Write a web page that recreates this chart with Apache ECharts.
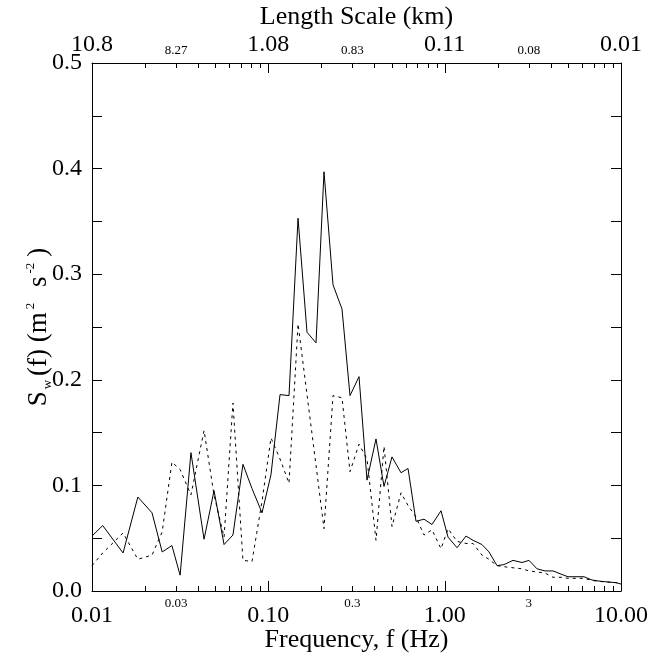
<!DOCTYPE html>
<html>
<head>
<meta charset="utf-8">
<script src="https://cdn.jsdelivr.net/npm/echarts@6/dist/echarts.min.js"></script>
<style>html,body{margin:0;background:#fff}#chart{width:654px;height:657px}</style>
</head>
<body>
<div id="chart"></div>
<script>
// frequency bins (Hz)
const freq = [0.0100, 0.0115, 0.0150, 0.0182, 0.0219, 0.0250, 0.0284, 0.0316, 0.0364, 0.0432,
  0.0492, 0.0561, 0.0630, 0.0718, 0.0808, 0.0921, 0.1035, 0.1165, 0.1310, 0.1474,
  0.1657, 0.1864, 0.2069, 0.2327, 0.2617, 0.2905, 0.3268, 0.3627, 0.4079, 0.4529,
  0.5027, 0.5655, 0.6197, 0.6878, 0.7635, 0.8476, 0.9533, 1.045, 1.175, 1.321,
  1.448, 1.628, 1.784, 1.981, 2.170, 2.441, 2.746, 3.009, 3.340, 3.707,
  4.116, 4.569, 5.006, 5.557, 6.169, 6.848, 7.603, 8.440, 9.370, 10.0];
// solid curve
const solid = [0.052, 0.062, 0.036, 0.089, 0.074, 0.037, 0.043, 0.015, 0.131, 0.049,
  0.095, 0.044, 0.053, 0.120, 0.097, 0.074, 0.110, 0.186, 0.185, 0.353,
  0.245, 0.235, 0.397, 0.290, 0.267, 0.185, 0.203, 0.105, 0.144, 0.099,
  0.127, 0.112, 0.116, 0.066, 0.068, 0.063, 0.076, 0.051, 0.041, 0.052,
  0.048, 0.044, 0.037, 0.024, 0.025, 0.029, 0.027, 0.029, 0.021, 0.019,
  0.019, 0.016, 0.0135, 0.0135, 0.0135, 0.0104, 0.0093, 0.0085, 0.0079, 0.0066];
// dashed curve
const dashed = [0.024, 0.036, 0.055, 0.030, 0.034, 0.056, 0.122, 0.115, 0.091, 0.152,
  0.091, 0.051, 0.178, 0.029, 0.028, 0.085, 0.145, 0.125, 0.102, 0.253,
  0.186, 0.119, 0.059, 0.185, 0.183, 0.113, 0.139, 0.125, 0.048, 0.137,
  0.061, 0.093, 0.081, 0.070, 0.053, 0.058, 0.040, 0.059, 0.047, 0.045,
  0.045, 0.034, 0.030, 0.024, 0.023, 0.022, 0.021, 0.019, 0.018, 0.017,
  0.013, 0.013, 0.012, 0.012, 0.012, 0.010, 0.009, 0.0085, 0.0079, 0.0066];

const labelFreq = [0.01, 0.03, 0.1, 0.3, 1, 3, 10];
const freqLabels = ['0.01', '0.03', '0.10', '0.3', '1.00', '3', '10.00'];
const lengthLabels = ['10.8', '8.27', '1.08', '0.83', '0.11', '0.08', '0.01'];

// log-axis ticks: [freq, 0, tick length]; decades long, 2..9 short
const xTicks = [];
[0.01, 0.1, 1].forEach(d => {
  xTicks.push([d, 0, 10]);
  for (let k = 2; k <= 9; k++) xTicks.push([d * k, 0, 5]);
});
xTicks.push([10, 0, 10]);

const font = 'Liberation Serif';
const black = '#000';

// label text picked by value (big ones at decades, small ones at 3x)
function pick(labels) {
  return v => {
    const i = labelFreq.findIndex(t => Math.abs(Math.log10(t / v)) < 0.01);
    if (i < 0) return '';
    return (i % 2 ? '{s|' : '{b|') + labels[i] + '}';
  };
}

function logAx(pos, extra) {
  return Object.assign({
    type: 'log', logBase: 10, min: 0.01, max: 10, position: pos,
    splitLine: { show: false },
    axisLine: { onZero: false, lineStyle: { color: black, width: 1 } },
    axisTick: { show: false },
    nameMoveOverlap: false
  }, extra);
}

function yAx(pos, extra) {
  return Object.assign({
    type: 'value', min: 0, max: 0.5, interval: 0.1, position: pos,
    splitLine: { show: false },
    axisLine: { show: true, onZero: false, lineStyle: { color: black, width: 1 } },
    axisTick: { show: true, inside: true, length: 10, lineStyle: { color: black } },
    minorTick: { show: true, splitNumber: 2, length: 10, lineStyle: { color: black } },
    minorSplitLine: { show: false },
    axisLabel: { show: false },
    nameMoveOverlap: false
  }, extra);
}

// draws one tick up from the bottom edge and one down from the top edge
function tickItem(params, api) {
  const f = api.value(0), len = api.value(2);
  const b = api.coord([f, 0]);
  const t = api.coord([f, 0.5]);
  const x = Math.round(b[0]) + 0.5;
  const st = { stroke: black, lineWidth: 1 };
  return {
    type: 'group',
    children: [
      { type: 'line', shape: { x1: x, y1: b[1], x2: x, y2: b[1] - len }, style: st },
      { type: 'line', shape: { x1: x, y1: t[1], x2: x, y2: t[1] + len }, style: st }
    ]
  };
}

const chart = echarts.init(document.getElementById('chart'));
chart.setOption({
  animation: false,
  backgroundColor: '#fff',
  textStyle: { fontFamily: font, color: black },
  grid: { left: 92, right: 33, top: 63, bottom: 66, outerBoundsMode: 'none', containLabel: false },
  xAxis: [
    logAx('bottom', {
      name: 'Frequency, f (Hz)', nameLocation: 'middle', nameGap: 36,
      nameTextStyle: { fontFamily: font, fontSize: 26, color: black },
      axisLabel: {
        show: true, margin: 5, customValues: labelFreq, hideOverlap: false,
        formatter: pick(freqLabels),
        rich: {
          b: { fontFamily: font, fontSize: 24, lineHeight: 40, color: black },
          s: { fontFamily: font, fontSize: 13, lineHeight: 16, color: black }
        }
      }
    }),
    logAx('top', {
      name: 'Length Scale (km)', nameLocation: 'middle', nameGap: 33,
      nameTextStyle: { fontFamily: font, fontSize: 26, color: black },
      axisLabel: {
        show: true, margin: 6, customValues: labelFreq, hideOverlap: false,
        formatter: pick(lengthLabels),
        rich: {
          b: { fontFamily: font, fontSize: 24, lineHeight: 24, color: black },
          s: { fontFamily: font, fontSize: 13, lineHeight: 13, color: black }
        }
      }
    })
  ],
  yAxis: [
    yAx('left', {
      name: 'S{w|w}(f) (m{p|2} s{q|-2})', nameLocation: 'middle', nameGap: 38, nameRotate: 90,
      nameTextStyle: {
        fontFamily: font, fontSize: 27, color: black, lineHeight: 30,
        rich: {
          w: { fontFamily: font, fontSize: 13, verticalAlign: 'bottom', lineHeight: 14, padding: [0, 4, 0, 2], color: black },
          p: { fontFamily: font, fontSize: 13, verticalAlign: 'top', lineHeight: 18, padding: [0, 9, 0, 3], color: black },
          q: { fontFamily: font, fontSize: 13, verticalAlign: 'top', lineHeight: 18, padding: [0, 6, 0, 3], color: black }
        }
      },
      axisLabel: { show: true, fontFamily: font, fontSize: 24, color: black, margin: 10,
        formatter: v => v.toFixed(1) }
    }),
    yAx('right', {})
  ],
  series: [
    {
      type: 'line', xAxisIndex: 0, yAxisIndex: 0, symbol: 'none',
      lineStyle: { color: black, width: 1 },
      data: freq.map((f, i) => [f, solid[i]])
    },
    {
      type: 'line', xAxisIndex: 0, yAxisIndex: 0, symbol: 'none',
      lineStyle: { color: black, width: 1, type: [3, 4] },
      data: freq.map((f, i) => [f, dashed[i]])
    },
    {
      type: 'custom', xAxisIndex: 0, yAxisIndex: 0, clip: false, silent: true,
      encode: { x: 0, y: 1 },
      renderItem: tickItem,
      data: xTicks
    }
  ]
});
</script>
</body>
</html>
